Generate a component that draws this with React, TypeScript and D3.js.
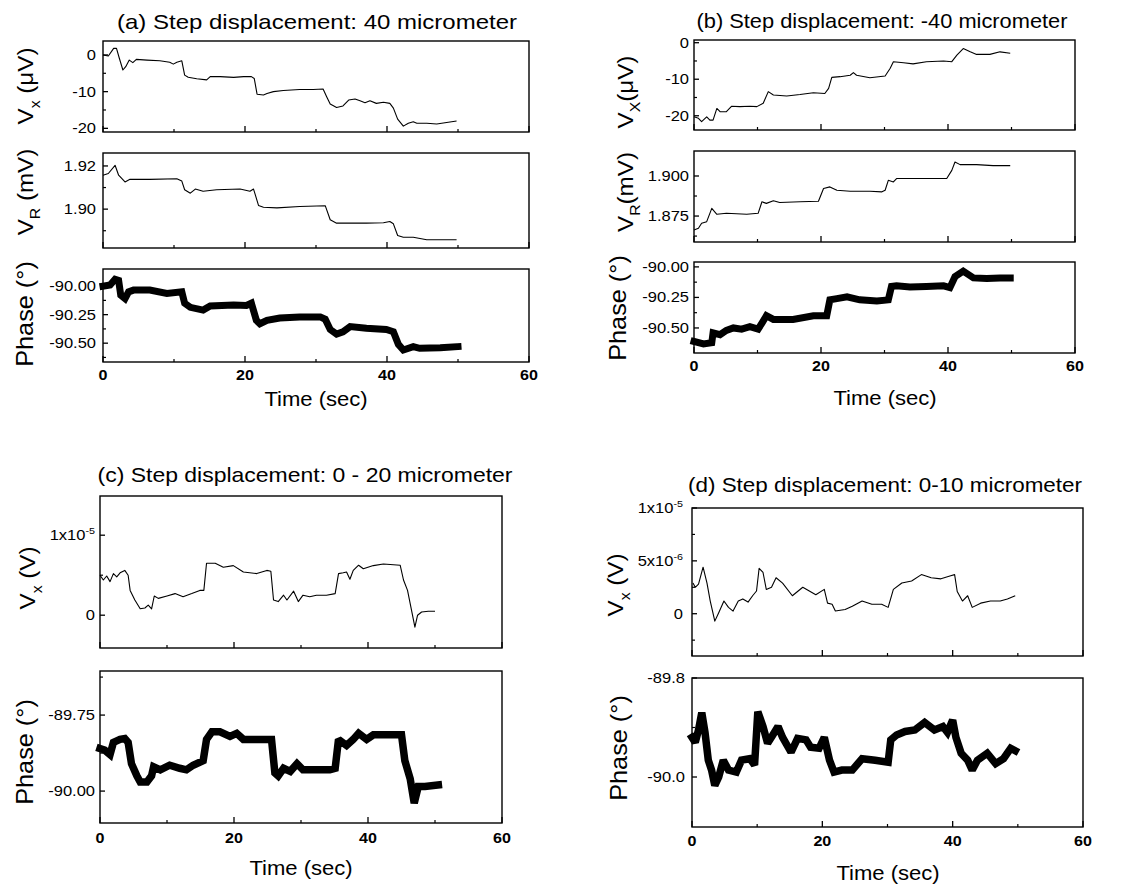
import React from "react";
import * as d3 from "d3";

type Pt = [number, number];
const FONT = "'Liberation Sans', Arial, Helvetica, sans-serif";

// ---------- text content ----------
const panelTitles = [
  "(a) Step displacement: 40 micrometer",
  "(b) Step displacement: -40 micrometer",
  "(c) Step displacement: 0 - 20 micrometer",
  "(d) Step displacement: 0-10 micrometer",
];
const xAxisTitle = "Time (sec)";
const xTickMajor = [0, 20, 40, 60];
const xTickMinor = [10, 30, 50];

// ---------- data (time in s) ----------
// (a) Vx in microvolts
const aVx: Pt[] = [[0,0],[0.75,-0.3],[1.5,1.8],[1.9,1.8],[2.3,-0.9],[2.8,-4.1],[3.2,-3.2],[3.7,-1.4],[4.2,-2.1],[4.7,-1.2],[6.2,-1.4],[8,-1.6],[9.4,-2.0],[9.9,-2.5],[10.4,-2.0],[11.1,-1.6],[11.5,-5.5],[12,-6.1],[13.2,-6.5],[14.6,-6.8],[15.1,-5.9],[16.5,-5.9],[18.4,-6.1],[19.8,-5.9],[20.9,-5.9],[21.3,-6.4],[21.7,-10.7],[22.6,-10.9],[23.1,-10.5],[24,-10],[25.4,-9.7],[27.7,-9.4],[29.6,-9.4],[31,-9.3],[31.5,-11.4],[32,-13.4],[32.9,-14.3],[33.8,-13.9],[34.6,-12.3],[35.5,-12],[36.2,-12.5],[36.9,-13],[37.6,-12.5],[38.5,-13.2],[39.5,-12.9],[40.4,-13.2],[40.9,-14.5],[41.5,-17.5],[42.3,-19.4],[43,-18.6],[43.7,-18.2],[44.2,-18.6],[45.6,-18.6],[47,-18.8],[48.4,-18.4],[49.8,-18.0]];
// (a) VR in millivolts
const aVR: Pt[] = [[0,1.9157],[0.75,1.9165],[1.7,1.9203],[2.2,1.9157],[3.1,1.9126],[3.8,1.9138],[6.6,1.9138],[10.4,1.9141],[11.1,1.913],[11.5,1.909],[12.3,1.9074],[13,1.9093],[14.1,1.9083],[16,1.909],[19.3,1.9093],[20.7,1.9083],[21.2,1.9093],[21.4,1.9072],[21.9,1.9017],[22.6,1.9009],[24.5,1.9006],[27.7,1.9012],[31.3,1.9016],[32,1.8951],[32.9,1.8935],[34.8,1.8935],[37.1,1.8935],[39.5,1.8937],[40.4,1.8943],[40.9,1.8932],[41.5,1.8878],[42.3,1.887],[43.7,1.887],[45.6,1.8858],[49.8,1.8858]];
// (a) phase in degrees
const aPh: Pt[] = [[0,-90.0],[1,-89.99],[1.7,-89.94],[2.2,-89.95],[2.5,-90.08],[3.1,-90.11],[3.6,-90.05],[4.3,-90.035],[6.6,-90.035],[9,-90.064],[11.1,-90.05],[11.5,-90.15],[12.3,-90.186],[14.1,-90.21],[15.1,-90.174],[18.4,-90.166],[20.2,-90.17],[20.9,-90.15],[21.6,-90.3],[22.1,-90.33],[23.1,-90.3],[24.9,-90.28],[27.7,-90.27],[30.6,-90.27],[31.3,-90.29],[32,-90.38],[32.9,-90.42],[33.8,-90.4],[34.8,-90.355],[37.1,-90.37],[39.9,-90.38],[40.9,-90.4],[41.6,-90.51],[42.3,-90.56],[43.7,-90.53],[44.6,-90.545],[47.5,-90.54],[50,-90.53]];

// (b)
const bVx: Pt[] = [[0,-20.3],[0.7,-20.7],[1.2,-21.6],[2,-20.3],[2.5,-21.2],[3,-21.2],[3.6,-18.0],[4.1,-18.9],[5.1,-18.9],[5.9,-17.4],[7.2,-17.5],[8.8,-17.4],[9.9,-17.5],[10.9,-16.6],[11.7,-13.4],[12.5,-14.3],[14.6,-14.6],[16.7,-14.2],[18.8,-13.7],[20.6,-13.9],[21.2,-12.5],[21.7,-9.5],[23,-9.3],[24.6,-8.9],[25.1,-8.2],[25.6,-8.9],[27.7,-9.6],[30.1,-9.1],[30.9,-7.0],[31.4,-5.2],[33,-5.5],[34.5,-5.8],[36.6,-5.2],[39.3,-5.0],[40.6,-5.2],[41.4,-3.4],[42.4,-1.6],[43.5,-2.5],[44.5,-3.2],[46.6,-3.2],[48.2,-2.5],[49.8,-2.9]];
const bVR: Pt[] = [[0,1.8663],[0.7,1.8674],[1.2,1.8705],[2,1.8715],[2.8,1.8798],[3.6,1.8761],[5.1,1.8767],[8.3,1.8761],[10.1,1.8767],[10.7,1.8839],[11.4,1.8829],[12.5,1.8845],[13.5,1.8835],[16.7,1.8839],[19.6,1.8842],[20.4,1.8922],[21.4,1.8932],[22.5,1.8911],[24.6,1.8905],[27.7,1.8905],[29.6,1.8901],[30.1,1.8911],[30.6,1.8973],[31.4,1.8963],[31.9,1.8984],[34,1.8984],[36.6,1.8984],[39.8,1.8984],[40.6,1.9035],[41.1,1.9087],[41.9,1.9071],[44.5,1.9071],[47.1,1.9065],[49.8,1.9065]];
const bPh: Pt[] = [[0,-90.61],[1.5,-90.63],[2.8,-90.62],[3,-90.54],[4.1,-90.555],[5.1,-90.52],[6.2,-90.5],[7.5,-90.51],[8.8,-90.49],[10.1,-90.51],[10.7,-90.46],[11.4,-90.4],[12.5,-90.43],[15.6,-90.43],[18.8,-90.4],[20.9,-90.4],[21.4,-90.27],[22.5,-90.26],[24.1,-90.245],[26.1,-90.27],[28.8,-90.28],[30.6,-90.27],[31.1,-90.16],[31.9,-90.155],[34,-90.165],[36.6,-90.16],[39.3,-90.155],[40.3,-90.17],[41.1,-90.08],[42.4,-90.035],[44,-90.09],[46.1,-90.095],[48.2,-90.09],[49.8,-90.09]];

// (c) Vx in units of 1e-6 V
const cVx: Pt[] = [[0,5.0],[0.5,4.4],[1,4.9],[1.5,4.2],[2,5.2],[2.5,4.8],[3,5.3],[3.7,5.6],[4.2,5.0],[4.5,3.1],[5.2,1.9],[6,0.8],[6.7,0.9],[7.2,1.25],[7.7,0.8],[8.1,2.4],[8.7,2.1],[10,2.4],[11.2,2.7],[12.4,2.3],[13.7,2.7],[14.9,3.1],[15.5,3.1],[15.9,6.5],[17.2,6.5],[18.4,6.0],[19.9,6.2],[21.4,5.4],[23.4,5.2],[24.9,5.6],[25.5,5.5],[25.9,1.9],[26.6,1.7],[27.4,2.5],[27.9,1.9],[28.9,3.0],[29.6,1.7],[30.3,2.5],[31.3,2.3],[32.3,2.5],[33.8,2.5],[35.1,2.7],[35.6,5.2],[36.3,5.3],[36.8,5.4],[37.3,4.5],[37.8,5.6],[38.6,6.25],[39.3,5.8],[40.8,6.2],[42.3,6.4],[44.8,6.25],[45.3,4.4],[45.9,3.1],[46.5,0.6],[47,-1.5],[47.4,0],[48,0.4],[49,0.5],[50,0.5]];
const cPh: Pt[] = [[0,-89.86],[0.7,-89.865],[1.5,-89.88],[2,-89.84],[3,-89.83],[3.7,-89.827],[4.2,-89.84],[4.7,-89.91],[5.5,-89.95],[6,-89.97],[7,-89.97],[7.7,-89.95],[8,-89.92],[9,-89.93],[10.4,-89.915],[11.9,-89.925],[12.9,-89.93],[13.9,-89.915],[15.4,-89.9],[15.9,-89.83],[16.7,-89.805],[17.9,-89.805],[19.4,-89.82],[20.4,-89.81],[21.4,-89.83],[22.9,-89.83],[24.4,-89.83],[25.6,-89.83],[26.1,-89.94],[26.6,-89.95],[27.4,-89.925],[28.4,-89.935],[29.4,-89.91],[30.3,-89.93],[32.3,-89.93],[34.3,-89.93],[35.1,-89.925],[35.6,-89.83],[36.8,-89.85],[37.8,-89.83],[38.6,-89.81],[39.8,-89.83],[40.8,-89.815],[42.8,-89.815],[45,-89.815],[45.5,-89.9],[46.3,-89.96],[46.9,-90.04],[47.5,-89.985],[48.5,-89.985],[50.5,-89.98]];

// (d) Vx in units of 1e-6 V
const dVx: Pt[] = [[0.15,2.9],[0.5,2.5],[1,2.8],[1.7,4.4],[2.3,2.9],[2.8,1.2],[3.5,-0.7],[4.1,0.1],[4.9,1.2],[5.6,0.6],[6.3,0.25],[7.1,1.2],[7.8,1.4],[8.6,1.1],[9.3,1.7],[9.9,2.15],[10.3,4.3],[10.9,3.9],[11.4,2.3],[12.2,2.5],[12.9,3.4],[13.9,2.9],[15.4,1.7],[17,2.5],[18,2.15],[19,1.8],[20.3,2.3],[20.8,1.0],[21.5,0.9],[22,0.25],[23.5,0.4],[24.6,0.7],[26.1,1.2],[27.6,0.9],[29.1,0.9],[30.1,0.6],[30.9,2.3],[32.2,2.9],[33.7,3.1],[35.2,3.7],[36.7,3.4],[38.2,3.3],[39.7,3.6],[40.3,3.7],[40.7,2.1],[41.5,1.2],[42.3,1.7],[43,0.6],[44.3,1.0],[45.8,1.2],[47.3,1.2],[48.4,1.4],[49.6,1.7]];
const dPh: Pt[] = [[0,-89.92],[0.5,-89.93],[1,-89.905],[1.5,-89.87],[2,-89.91],[2.5,-89.966],[3,-89.986],[3.5,-90.017],[4.1,-90.0],[4.8,-89.966],[5.6,-89.986],[6.8,-89.99],[7.6,-89.966],[8.9,-89.963],[9.6,-89.976],[10.1,-89.868],[10.9,-89.898],[11.6,-89.932],[12.4,-89.915],[13.2,-89.898],[13.9,-89.92],[15.2,-89.95],[16.2,-89.922],[17.5,-89.925],[18.2,-89.94],[19.5,-89.942],[20.3,-89.92],[21.1,-89.966],[21.8,-89.99],[23,-89.986],[24.6,-89.986],[26.1,-89.963],[28.1,-89.966],[30.1,-89.97],[30.5,-89.925],[31.4,-89.915],[32.7,-89.908],[34.2,-89.905],[35.7,-89.89],[37.2,-89.905],[38.5,-89.898],[39.2,-89.91],[40,-89.885],[40.5,-89.92],[41.3,-89.952],[42.3,-89.966],[43,-89.986],[43.8,-89.966],[45.3,-89.952],[46.6,-89.973],[47.8,-89.963],[48.9,-89.942],[49.6,-89.947]];

// ---------- tick values / labels ----------
const tickVxUV = [-20, -10, 0];
const tickVxUVLabels = ["-20", "-10", "0"];
const tickVRa = [1.9, 1.92];
const tickVRaLabels = ["1.90", "1.92"];
const tickVRb = [1.875, 1.9];
const tickVRbLabels = ["1.875", "1.900"];
const tickPhAB = [-90.5, -90.25, -90.0];
const tickPhABLabels = ["-90.50", "-90.25", "-90.00"];
const tickVxC = [0, 10];
const tickVxCLabels: (string | [string, string])[] = ["0", ["1x10", "-5"]];
const tickPhC = [-90.0, -89.75];
const tickPhCLabels = ["-90.00", "-89.75"];
const tickVxD = [0, 5, 10];
const tickVxDLabels: (string | [string, string])[] = ["0", ["5x10", "-6"], ["1x10", "-5"]];
const tickPhD = [-90.0, -89.8];
const tickPhDLabels = ["-90.0", "-89.8"];

type LabelPart = [string, "n" | "sub"];
interface Sub {
  left: number; right: number; top: number; bottom: number;
  yDomain: [number, number];
  data: Pt[];
  lw: number;
  yMajor: number[];
  yMinor: number[];
  yLabels: (string | [string, string])[];
  labelEnd: number;
  tickFs: number;
  showX: boolean;
  xLabelBase: number;
  title: LabelPart[];
  titleX: number;
  titleY: number;
  titleFs: number;
}

const lblVx = (sub: string, unit: string, space: boolean): LabelPart[] => [["V", "n"], [sub, "sub"], [(space ? " " : "") + unit, "n"]];
const lblPh: LabelPart[] = [["Phase (°)", "n"]];

const subs: Sub[] = [
  // (a)
  { left: 103, right: 529, top: 41, bottom: 132, yDomain: [-21.0, 3.8], data: aVx, lw: 1.1, yMajor: tickVxUV, yMinor: [-15, -5], yLabels: tickVxUVLabels, labelEnd: 96, tickFs: 14, showX: false, xLabelBase: 0, title: lblVx("x", "(μV)", true), titleX: 33, titleY: 86, titleFs: 22 },
  { left: 103, right: 529, top: 153, bottom: 248, yDomain: [1.882, 1.926], data: aVR, lw: 1.1, yMajor: tickVRa, yMinor: [1.89, 1.91], yLabels: tickVRaLabels, labelEnd: 96, tickFs: 14, showX: false, xLabelBase: 0, title: lblVx("R", "(mV)", true), titleX: 33, titleY: 192, titleFs: 22 },
  { left: 103, right: 529, top: 269, bottom: 362, yDomain: [-90.665, -89.85], data: aPh, lw: 7, yMajor: tickPhAB, yMinor: [-90.625, -90.375, -90.125], yLabels: tickPhABLabels, labelEnd: 96, tickFs: 14, showX: true, xLabelBase: 380, title: lblPh, titleX: 33, titleY: 314, titleFs: 23 },
  // (b)
  { left: 694, right: 1075, top: 40, bottom: 130, yDomain: [-23.9, 0.74], data: bVx, lw: 1.1, yMajor: tickVxUV, yMinor: [-15, -5], yLabels: tickVxUVLabels, labelEnd: 689, tickFs: 14, showX: false, xLabelBase: 0, title: lblVx("X", "(μV)", false), titleX: 633, titleY: 92, titleFs: 22 },
  { left: 694, right: 1075, top: 151, bottom: 242, yDomain: [1.8588, 1.9156], data: bVR, lw: 1.1, yMajor: tickVRb, yMinor: [1.8625, 1.8875], yLabels: tickVRbLabels, labelEnd: 689, tickFs: 14, showX: false, xLabelBase: 0, title: lblVx("R", "(mV)", false), titleX: 633, titleY: 192, titleFs: 22 },
  { left: 694, right: 1075, top: 262, bottom: 353, yDomain: [-90.705, -89.96], data: bPh, lw: 7, yMajor: tickPhAB, yMinor: [-90.625, -90.375, -90.125], yLabels: tickPhABLabels, labelEnd: 689, tickFs: 14, showX: true, xLabelBase: 371, title: lblPh, titleX: 626, titleY: 308, titleFs: 23 },
  // (c)
  { left: 100, right: 502, top: 496, bottom: 648, yDomain: [-4.1, 14.9], data: cVx, lw: 1.1, yMajor: tickVxC, yMinor: [5], yLabels: tickVxCLabels, labelEnd: 95, tickFs: 14, showX: false, xLabelBase: 0, title: lblVx("x", "(V)", true), titleX: 35, titleY: 578, titleFs: 22 },
  { left: 100, right: 502, top: 671, bottom: 823, yDomain: [-90.105, -89.605], data: cPh, lw: 7.5, yMajor: tickPhC, yMinor: [-89.875, -89.625], yLabels: tickPhCLabels, labelEnd: 95, tickFs: 14, showX: true, xLabelBase: 843, title: lblPh, titleX: 33, titleY: 752, titleFs: 23 },
  // (d)
  { left: 692, right: 1083, top: 508, bottom: 656, yDomain: [-4.0, 10.0], data: dVx, lw: 1.1, yMajor: tickVxD, yMinor: [-2.5, 2.5, 7.5], yLabels: tickVxDLabels, labelEnd: 683, tickFs: 14, showX: false, xLabelBase: 0, title: lblVx("x", "(V)", true), titleX: 623, titleY: 585, titleFs: 22 },
  { left: 692, right: 1083, top: 678, bottom: 827, yDomain: [-90.101, -89.8], data: dPh, lw: 7.5, yMajor: tickPhD, yMinor: [-89.9], yLabels: tickPhDLabels, labelEnd: 685, tickFs: 14, showX: true, xLabelBase: 846, title: lblPh, titleX: 627, titleY: 748, titleFs: 23 },
];

const titleLayout = [
  { x: 317, y: 29, len: 400 },
  { x: 882, y: 28, len: 371 },
  { x: 305, y: 482, len: 415 },
  { x: 885, y: 492, len: 394 },
];
const timeLayout = [
  { x: 316, y: 406 },
  { x: 885, y: 405 },
  { x: 301, y: 875 },
  { x: 888, y: 880 },
];

function Subplot({ s }: { s: Sub }) {
  const xs = d3.scaleLinear().domain([0, 60]).range([s.left, s.right]);
  const ys = d3.scaleLinear().domain(s.yDomain).range([s.bottom, s.top]);
  const line = d3.line<Pt>().x((d) => xs(d[0])).y((d) => ys(d[1]));
  const thick = s.lw > 3;
  return (
    <g>
      <path
        d={line(s.data) || ""}
        fill="none"
        stroke="#000"
        strokeWidth={s.lw}
        strokeLinejoin={thick ? "miter" : "round"}
        strokeLinecap={thick ? "square" : "butt"}
        strokeMiterlimit={2}
      />
      <rect x={s.left} y={s.top} width={s.right - s.left} height={s.bottom - s.top} fill="none" stroke="#000" strokeWidth={1.4} />
      {s.yMajor.map((v, i) => (
        <g key={"ym" + i}>
          <line x1={s.left} x2={s.left + 5} y1={ys(v)} y2={ys(v)} stroke="#000" strokeWidth={1.3} />
          {(() => {
            const lab = s.yLabels[i];
            const y = ys(v) + s.tickFs * 0.36;
            return (
              <text transform={`translate(${s.labelEnd},${y}) scale(1.18,1)`} textAnchor="end" fontSize={s.tickFs} fontFamily={FONT}>
                {typeof lab === "string" ? lab : (
                  <>
                    <tspan>{lab[0]}</tspan>
                    <tspan fontSize={s.tickFs * 0.65} dy={-s.tickFs * 0.45}>{lab[1]}</tspan>
                  </>
                )}
              </text>
            );
          })()}
        </g>
      ))}
      {s.yMinor.map((v, i) => (
        <line key={"yn" + i} x1={s.left} x2={s.left + 3} y1={ys(v)} y2={ys(v)} stroke="#000" strokeWidth={1.2} />
      ))}
      {xTickMajor.map((v) => (
        <line key={"xm" + v} x1={xs(v)} x2={xs(v)} y1={s.bottom} y2={s.bottom - 6} stroke="#000" strokeWidth={1.3} />
      ))}
      {xTickMinor.map((v) => (
        <line key={"xn" + v} x1={xs(v)} x2={xs(v)} y1={s.bottom} y2={s.bottom - 3} stroke="#000" strokeWidth={1.2} />
      ))}
      {s.showX &&
        xTickMajor.map((v) => (
          <text key={"xl" + v} transform={`translate(${xs(v)},${s.xLabelBase}) scale(1.15,1)`} textAnchor="middle" fontSize={14} fontWeight="bold" fontFamily={FONT}>
            {v}
          </text>
        ))}
      <text transform={`translate(${s.titleX},${s.titleY}) rotate(-90) scale(1.1,1)`} textAnchor="middle" fontSize={s.titleFs} fontFamily={FONT}>
        {s.title.map((p, i) =>
          p[1] === "sub" ? (
            <tspan key={i} fontSize={s.titleFs * 0.65} dy={s.titleFs * 0.3}>{p[0]}</tspan>
          ) : (
            <tspan key={i} dy={i > 0 && s.title[i - 1][1] === "sub" ? -s.titleFs * 0.3 : 0}>{p[0]}</tspan>
          )
        )}
      </text>
    </g>
  );
}

export default function App() {
  return (
    <svg width={1129} height={886} style={{ position: "absolute", left: 0, top: 0, background: "#fff" }}>
      <rect x={0} y={0} width={1129} height={886} fill="#fff" />
      {subs.map((s, i) => (
        <Subplot key={i} s={s} />
      ))}
      {panelTitles.map((t, i) => (
        <text key={"t" + i} x={titleLayout[i].x} y={titleLayout[i].y} textAnchor="middle" fontSize={21} fontFamily={FONT} textLength={titleLayout[i].len} lengthAdjust="spacingAndGlyphs">
          {t}
        </text>
      ))}
      {timeLayout.map((p, i) => (
        <text key={"x" + i} transform={`translate(${p.x},${p.y}) scale(1.05,1)`} textAnchor="middle" fontSize={21} fontFamily={FONT}>
          {xAxisTitle}
        </text>
      ))}
    </svg>
  );
}
